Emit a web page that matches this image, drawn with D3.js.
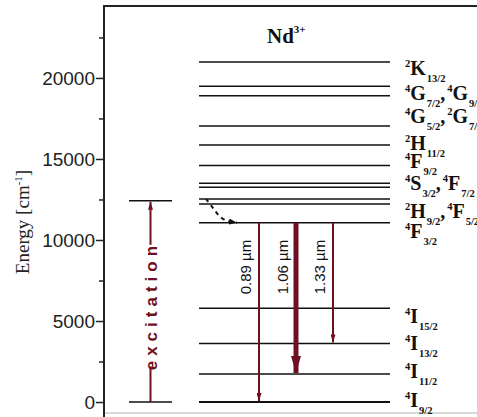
<!DOCTYPE html>
<html>
<head>
<style>
html, body { margin: 0; padding: 0; background: #fff; }
svg { display: block; }
.tick text { font-family: "Liberation Sans", Arial, sans-serif; font-size: 19px; fill: #222; }
</style>
</head>
<body>
<div id="stage"></div>
<script src="https://cdn.jsdelivr.net/npm/d3@7/dist/d3.min.js"></script>
<script>

// energy levels of Nd3+ (cm-1)
var levels = [0, 1730, 3620, 5780, 11070, 12220, 12530, 13250, 13500, 14600, 15860, 17040, 18900, 19480, 20990];

// term labels: [superscript, letter, subscript], and the energy where each row sits
var labelTerms = [
    [["2","K","13/2"]],
    [["4","G","7/2"],["4","G","9/2"]],
    [["4","G","5/2"],["2","G","7/2"]],
    [["2","H","11/2"]],
    [["4","F","9/2"]],
    [["4","S","3/2"],["4","F","7/2"]],
    [["2","H","9/2"],["4","F","5/2"]],
    [["4","F","3/2"]],
    [["4","I","15/2"]],
    [["4","I","13/2"]],
    [["4","I","11/2"]],
    [["4","I","9/2"]]
];
var labelEnergy = [20180, 18640, 17220, 15560, 14440, 13090, 11360, 10120, 4880, 3210, 1480, -310];

// emission lines from 4F3/2
var emission = ["0.89 µm", "1.06 µm", "1.33 µm"];
var emissionFrom = 11070;
var emissionTo = [0, 1730, 3620];

var excitation = [0, 12420];

var yTicks = [0, 5000, 10000, 15000, 20000];
var yMinor = [2500, 7500, 12500, 17500, 22500];

var W = 477, H = 417;
var red = "#6e1022";
var serif = "'Liberation Serif', 'Times New Roman', serif";

var svg = d3.select("#stage").append("svg").attr("width", W).attr("height", H);

var y = d3.scaleLinear().domain([-800, 24440]).range([415, 6]);
var xLevels = d3.scaleLinear().domain([0, 1]).range([199, 390]);
var xEm = d3.scalePoint().domain(emission).range([259, 333]);
var xExc = d3.scaleLinear().domain([0, 1]).range([129, 172]);

var defs = svg.append("defs");
function marker(id, w, l, col) {
    defs.append("marker")
        .attr("id", id)
        .attr("viewBox", "0 0 " + l + " " + w)
        .attr("refX", l).attr("refY", w / 2)
        .attr("markerWidth", l).attr("markerHeight", w)
        .attr("markerUnits", "userSpaceOnUse")
        .attr("orient", "auto")
        .append("path")
        .attr("d", "M0,0L" + l + "," + (w / 2) + "L0," + w + "Z")
        .attr("fill", col);
}
marker("thin", 5, 8, red);
marker("thick", 10, 17, red);
marker("dash", 6, 8, "#111");

// frame
svg.append("line").attr("x1", 104).attr("x2", W).attr("y1", 6).attr("y2", 6)
    .attr("stroke", "#222").attr("stroke-width", 2);
svg.append("line").attr("x1", 104).attr("x2", W).attr("y1", 413).attr("y2", 413)
    .attr("stroke", "#ccc").attr("stroke-width", 1.5);

// axes
var axis = d3.axisLeft(y).tickValues(yTicks).tickSize(8).tickSizeOuter(0).tickPadding(1)
    .tickFormat(d3.format("d"));
var gAxis = svg.append("g").attr("transform", "translate(104,0)").call(axis);
gAxis.select(".domain").remove();
gAxis.selectAll(".tick line").attr("stroke", "#222").attr("stroke-width", 1.5);
svg.append("g").attr("transform", "translate(104,0)")
    .call(d3.axisLeft(y).tickValues(yMinor).tickSize(5).tickFormat(""))
    .call(function (g) { g.select(".domain").remove(); g.selectAll("line").attr("stroke", "#222").attr("stroke-width", 1.5); });
svg.append("line").attr("x1", 104).attr("x2", 104).attr("y1", 5).attr("y2", H)
    .attr("stroke", "#222").attr("stroke-width", 2);

svg.append("text")
    .attr("transform", "translate(29,222) rotate(-90)")
    .attr("text-anchor", "middle")
    .style("font-family", serif)
    .style("font-size", "19px").attr("fill", "#222")
    .call(function (t) {
        t.append("tspan").text("Energy [cm");
        t.append("tspan").attr("dy", -7).style("font-size", "11px").text("-1");
        t.append("tspan").attr("dy", 7).text("]");
    });

// title
svg.append("text").attr("x", 267).attr("y", 43)
    .style("font-family", serif)
    .style("font-weight", "bold").style("font-size", "21px").attr("fill", "#111")
    .call(function (t) {
        t.append("tspan").text("Nd");
        t.append("tspan").attr("dy", -10).style("font-size", "11px").text("3+");
    });

// levels
svg.selectAll(".level").data(levels).enter().append("line")
    .attr("class", "level")
    .attr("x1", xLevels(0)).attr("x2", xLevels(1))
    .attr("y1", function (d) { return y(d); }).attr("y2", function (d) { return y(d); })
    .attr("stroke", "#111").attr("stroke-width", function (d) { return d === 0 ? 2 : 1.5; });

// level labels
svg.selectAll(".lab").data(labelTerms).enter().append("text")
    .attr("class", "lab")
    .attr("x", 405).attr("y", function (d, i) { return y(labelEnergy[i]); })
    .style("font-family", serif)
    .style("font-weight", "bold").attr("fill", "#111")
    .each(function (terms) {
        var t = d3.select(this);
        terms.forEach(function (term, k) {
            if (k > 0) t.append("tspan").attr("dy", -7).style("font-size", "20px").text(",");
            t.append("tspan").attr("dy", -8).attr("dx", k > 0 ? 2 : 0).style("font-size", "10.5px").text(term[0]);
            t.append("tspan").attr("dy", 8).style("font-size", "20px").text(term[1]);
            t.append("tspan").attr("dy", 7).attr("dx", 1).style("font-size", "10.5px").text(term[2]);
        });
    });

// excitation
svg.selectAll(".exc").data(excitation).enter().append("line")
    .attr("x1", xExc(0)).attr("x2", xExc(1))
    .attr("y1", function (d) { return y(d); }).attr("y2", function (d) { return y(d); })
    .attr("stroke", "#111").attr("stroke-width", 1.5);
var excX = (xExc(0) + xExc(1)) / 2;
svg.append("line").attr("x1", excX).attr("x2", excX)
    .attr("y1", y(excitation[0])).attr("y2", y(2200))
    .attr("stroke", red).attr("stroke-width", 2);
svg.append("line").attr("x1", excX).attr("x2", excX)
    .attr("y1", y(9700)).attr("y2", y(excitation[1]) + 1)
    .attr("stroke", red).attr("stroke-width", 2).attr("marker-end", "url(#thin)");
svg.append("text")
    .attr("transform", "translate(" + (excX + 6) + "," + y((2200 + 9700) / 2) + ") rotate(-90)")
    .attr("text-anchor", "middle")
    .style("font-family", "'Liberation Sans', Arial, sans-serif")
    .style("font-weight", "bold").style("font-size", "17px").style("letter-spacing", "5px")
    .attr("fill", red).text("excitation");

// non-radiative relaxation
var relax = d3.line().curve(d3.curveBasis);
svg.append("path")
    .attr("d", relax([[206, y(12530)], [214, y(11900)], [222, y(11200)], [237, y(emissionFrom)]]))
    .attr("fill", "none").attr("stroke", "#111").attr("stroke-width", 2)
    .attr("stroke-dasharray", "4,4").attr("marker-end", "url(#dash)");

// emission arrows
svg.selectAll(".em").data(emission).enter().append("line")
    .attr("x1", function (d) { return xEm(d); }).attr("x2", function (d) { return xEm(d); })
    .attr("y1", y(emissionFrom))
    .attr("y2", function (d, i) { return y(emissionTo[i]) - 1; })
    .attr("stroke", red)
    .attr("stroke-width", function (d, i) { return i === 1 ? 5 : 2; })
    .attr("marker-end", function (d, i) { return i === 1 ? "url(#thick)" : "url(#thin)"; });

svg.selectAll(".emlab").data(emission).enter().append("text")
    .attr("transform", function (d) { return "translate(" + (xEm(d) - 13) + "," + y(8330) + ") rotate(-90)"; })
    .attr("text-anchor", "middle").attr("dy", "0.35em")
    .style("font-family", "'Liberation Sans', Arial, sans-serif")
    .style("font-size", "15px").attr("fill", "#111")
    .text(function (d) { return d; });

</script>
</body>
</html>
